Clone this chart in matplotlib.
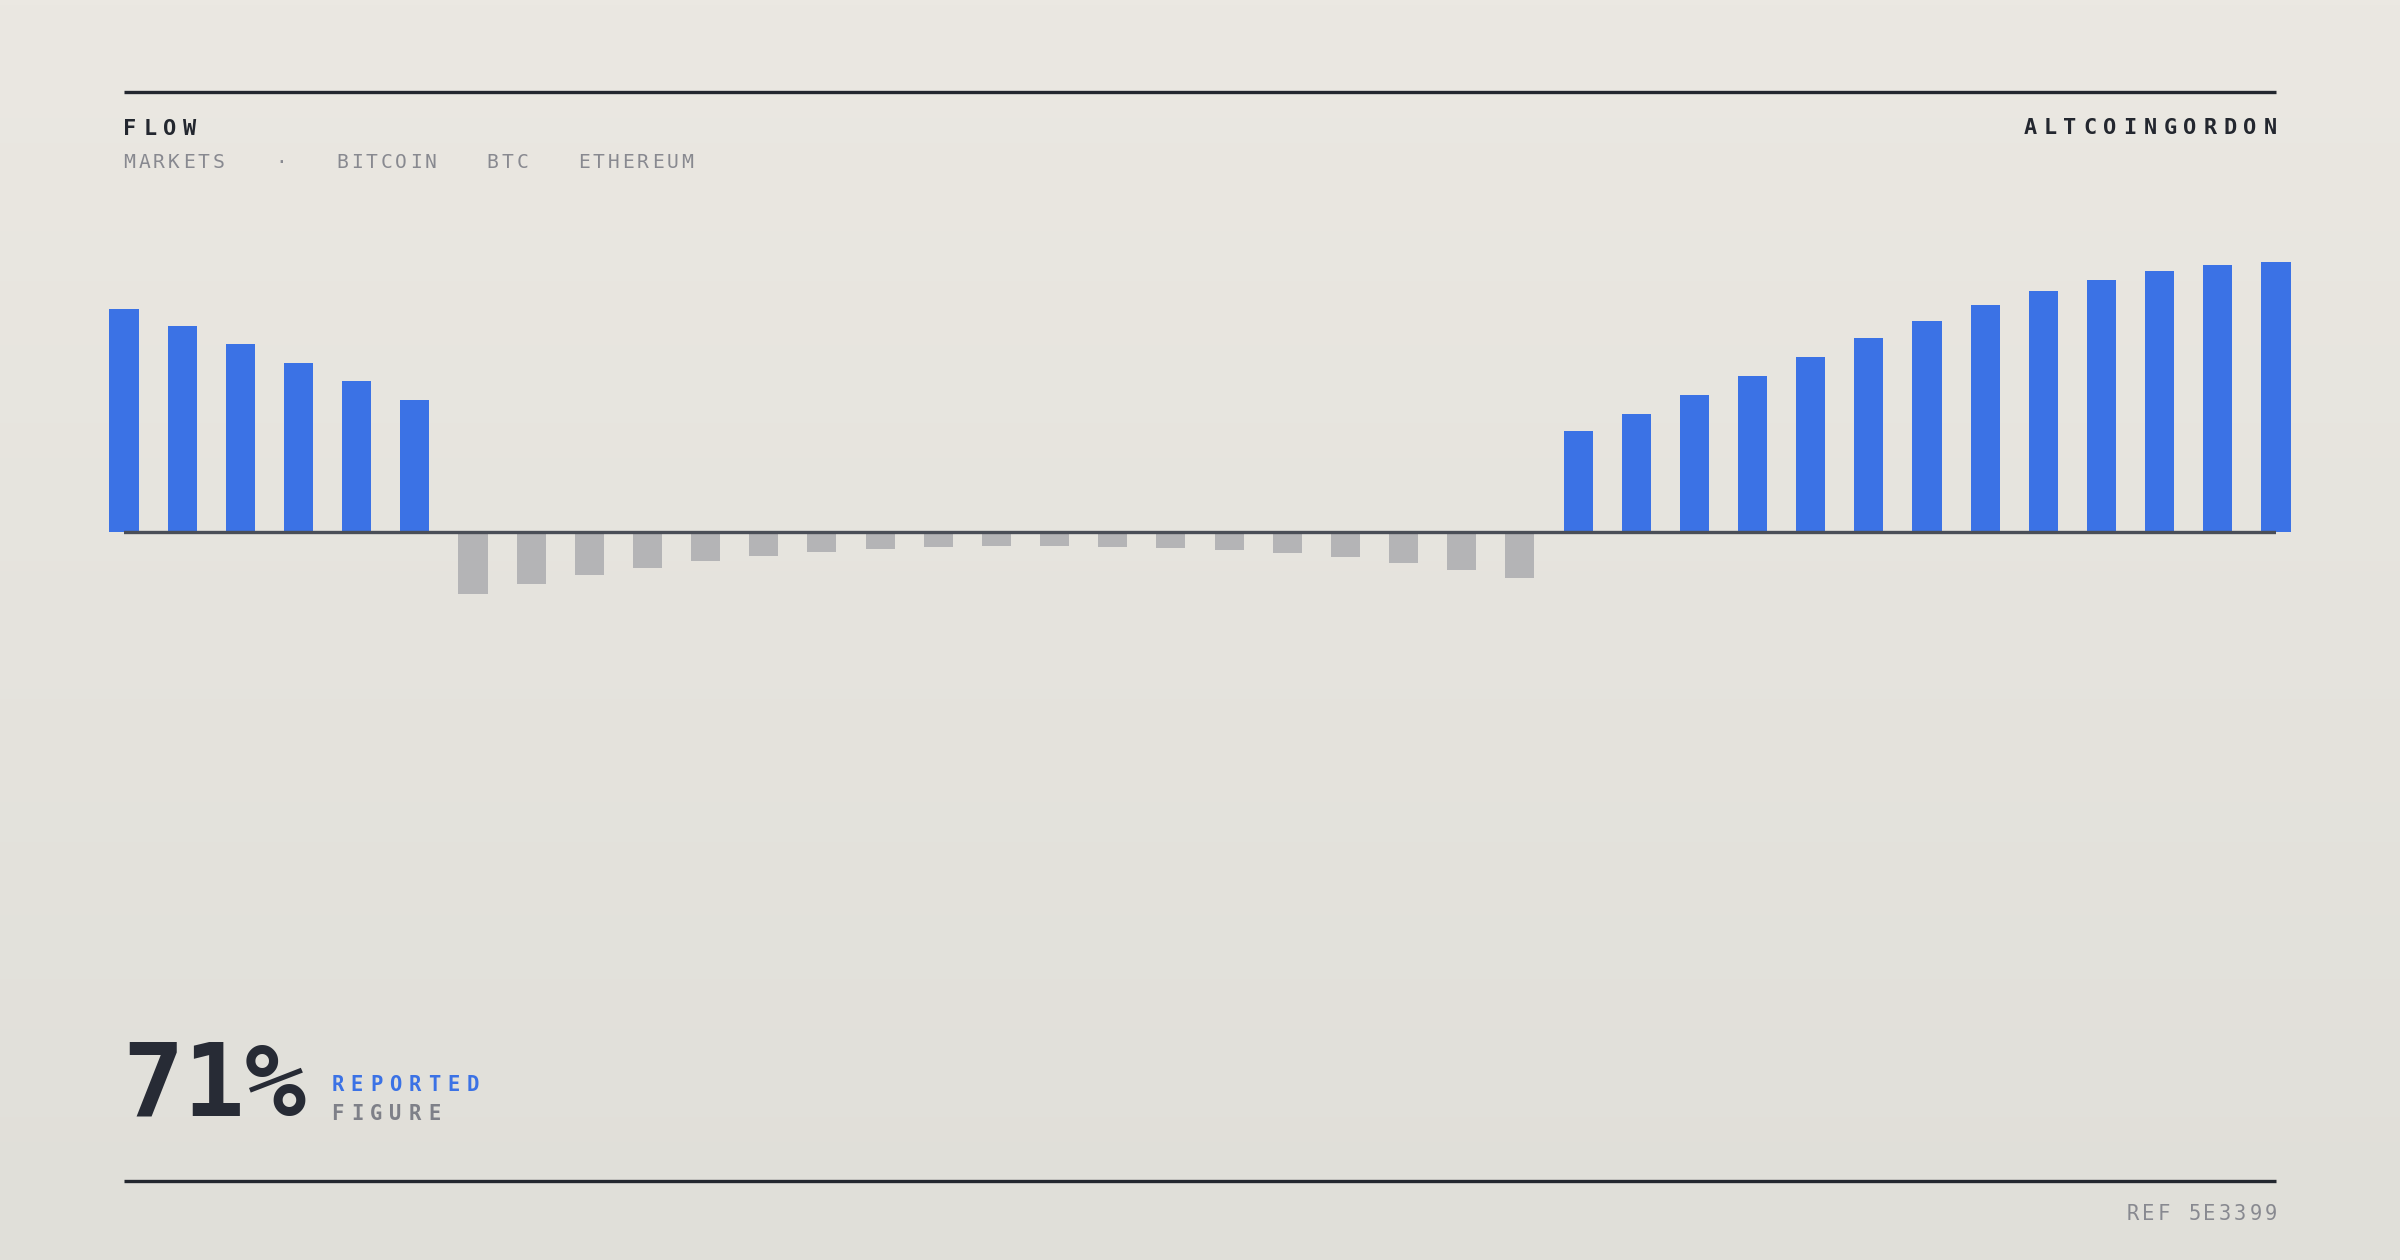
#!/usr/bin/env python3
import matplotlib
import matplotlib.pyplot as plt
import numpy as np

matplotlib.use('AGG')

# Bar values, left to right (arbitrary flow units)
left_inflow = [82.5, 76.3, 69.7, 62.7, 55.8, 48.7]
outflow = [-23.1, -19.5, -16.2, -13.5, -11.0, -9.0, -7.4, -6.4, -5.8, -5.4,
           -5.4, -5.7, -6.0, -6.8, -7.8, -9.5, -11.5, -14.2, -17.2]
right_inflow = [37.3, 43.8, 50.7, 57.7, 64.9, 71.8, 78.1, 84.1, 89.2, 93.4,
                96.8, 99.0, 100.0]

title = "FLOW"
brand = "ALTCOINGORDON"
tags = ["MARKETS", "·", "BITCOIN", "BTC", "ETHEREUM"]
headline = "71%"
headline_top = "REPORTED"
headline_bottom = "FIGURE"
ref_label = "REF 5E3399"

W, H = 2400, 1260
DPI = 200
MONO = "DejaVu Sans Mono"

DARK = "#23272f"
GREY_TEXT = "#888990"
BLUE = "#3b72e5"
GREY_BAR = "#b4b4b6"


def fx(px):
    return px / W


def fy(py):
    return 1 - py / H


def spaced(fig, x, y, text, size, pitch, color, weight="normal", align="left"):
    # matplotlib has no letter-spacing, so place each glyph on its own
    em = size * DPI / 72
    half = 0.55 * em / 2
    n = len(text)
    if align == "left":
        first = x + half
    else:
        first = x - half - (n - 1) * pitch
    for i, ch in enumerate(text):
        if ch == " ":
            continue
        fig.text(fx(first + i * pitch), fy(y), ch, fontsize=size, color=color,
                 fontweight=weight, family=MONO, ha="center", va="baseline")


fig = plt.figure(figsize=(W / DPI, H / DPI), dpi=DPI)

# soft vertical background gradient
bg = fig.add_axes([0, 0, 1, 1], zorder=-10)
top = np.array([0xeb, 0xe8, 0xe2]) / 255
bot = np.array([0xe0, 0xdf, 0xd9]) / 255
t = np.linspace(0, 1, 256)[:, None]
grad = (top * (1 - t) + bot * t)[:, None, :]
bg.imshow(grad, aspect="auto", extent=[0, 1, 0, 1])
bg.set_axis_off()

# rules top and bottom
for yy in (92.3, 1180.5):
    fig.add_artist(plt.Line2D([fx(124), fx(2276)], [fy(yy), fy(yy)],
                              color=DARK, lw=1.2, solid_capstyle="butt"))

# bars
values = left_inflow + outflow + right_inflow
colors = [BLUE] * len(left_inflow) + [GREY_BAR] * len(outflow) + [BLUE] * len(right_inflow)
x = np.arange(len(values))

ax = fig.add_axes([fx(124), 0.4924, fx(2276 - 124), 0.321])
ax.bar(x, values, width=0.5, color=colors, clip_on=False, zorder=2)
ax.axhline(0, color="#4a4e57", lw=1.2, zorder=3)
ax.set_xlim(0, len(values) - 1)
ax.set_ylim(-40, 110)
ax.set_axis_off()

# header
spaced(fig, 124, 135, title, 7.9, 20.0, DARK, weight="bold")
spaced(fig, 2276, 134.5, brand, 7.9, 20.0, DARK, weight="bold", align="right")

tag_x = [124, 276, 336.7, 487.3, 578.3]
for xx, tag in zip(tag_x, tags):
    spaced(fig, xx, 167.7, tag, 7.05, 14.8, GREY_TEXT)

# headline figure
fig.text(fx(122), fy(1116), headline, fontsize=36.7, fontweight="bold",
         color="#272b35", family=MONO, ha="left", va="baseline")
spaced(fig, 332, 1090.7, headline_top, 7.4, 19.3, BLUE, weight="bold")
spaced(fig, 332, 1120, headline_bottom, 7.4, 19.3, "#7e8088", weight="bold")

# footer
spaced(fig, 2276.5, 1220, ref_label, 7.4, 15.3, GREY_TEXT, align="right")

fig.savefig("out.png", dpi=DPI)
